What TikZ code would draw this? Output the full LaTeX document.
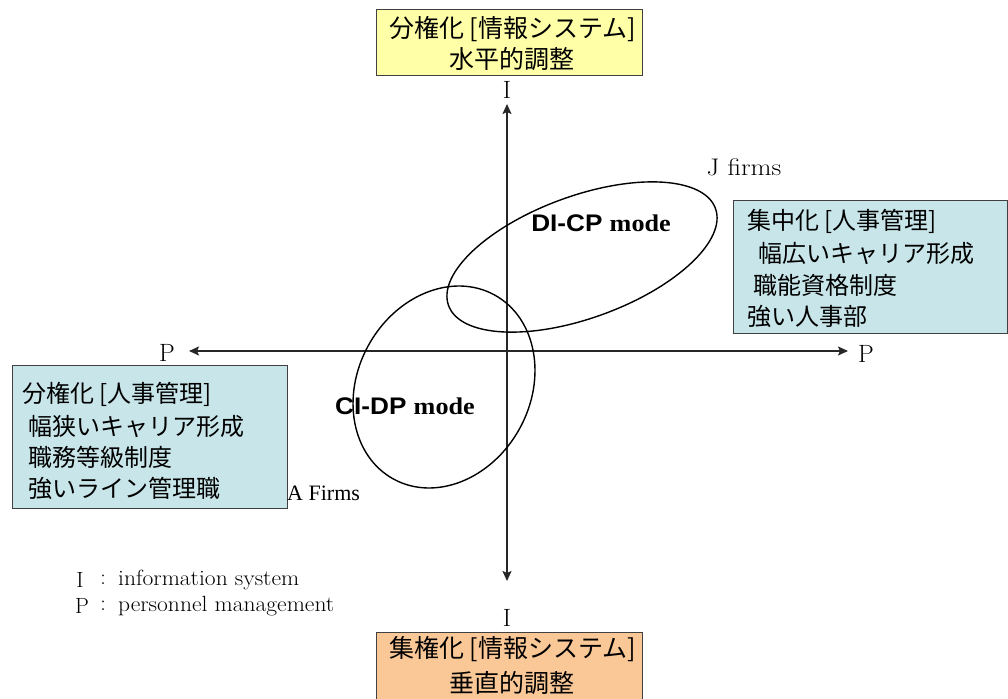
\documentclass[tikz,border=0pt]{standalone}
\usepackage{fontspec}
\newfontfamily\jp{Noto Sans CJK JP}
\newfontfamily\modesans{Liberation Sans}
\newfontfamily\modeserif{Liberation Serif}
\usetikzlibrary{arrows.meta}
\definecolor{boxyellow}{HTML}{FFFFA8}
\definecolor{boxpeach}{HTML}{FAC896}
\definecolor{boxblue}{HTML}{C8E6EA}
\newcommand{\widetext}[2]{\scalebox{#1}[1]{#2}}
\tikzset{
  panel/.style={draw=black!75, line width=1pt, inner sep=0pt, outer sep=0pt},
  jtext/.style={inner sep=0pt, font=\jp\fontsize{24}{28}\selectfont},
  jtitle/.style={inner sep=0pt, font=\jp\fontsize{25}{29}\selectfont},
  axislabel/.style={inner sep=0pt, font=\fontsize{25}{29}\selectfont},
  legendtext/.style={inner sep=0pt, font=\fontsize{22}{26}\selectfont},
  axisline/.style={line width=1.6pt, black!85,
    {Stealth[length=10pt,width=9pt,inset=2pt]}-{Stealth[length=10pt,width=9pt,inset=2pt]}},
  modeellipse/.style={draw=black, line width=1.4pt},
  modelabel/.style={inner sep=0pt, font=\fontsize{24}{28}\selectfont},
}
\begin{document}
\begin{tikzpicture}[x=1pt, y=-1pt]
  \fill[white] (0,0) rectangle (1008,698);
  \clip (0,0) rectangle (1008,698);

  % quadrant boxes
  \node[panel, fill=boxyellow, minimum width=266pt, minimum height=66pt] (topbox) at (509,43) {};
  \node[panel, fill=boxpeach, minimum width=266pt, minimum height=80pt] (botbox) at (509,672) {};
  \node[panel, fill=boxblue, minimum width=274pt, minimum height=133pt] (rightbox) at (870,266.5) {};
  \node[panel, fill=boxblue, minimum width=275pt, minimum height=143pt] (leftbox) at (149.5,436.5) {};

  % information-system labels
  \node[jtitle] (top1) at (512.5,29) {分権化 [情報システム]};
  \node[jtitle] (top2) at (512,59) {水平的調整};
  \node[jtitle] (bot1) at (512.5,649) {集権化 [情報システム]};
  \node[jtitle] (bot2) at (511.5,683) {垂直的調整};

  % personnel-management labels
  \node[jtext, anchor=west] (r1) at (747,221) {集中化 [人事管理]};
  \node[jtext, anchor=west] (r2) at (758,253) {幅広いキャリア形成};
  \node[jtext, anchor=west] (r3) at (753,285) {職能資格制度};
  \node[jtext, anchor=west] (r4) at (747,316) {強い人事部};

  \node[jtext, anchor=west] (l1) at (22,394) {分権化 [人事管理]};
  \node[jtext, anchor=west] (l2) at (28,426) {幅狭いキャリア形成};
  \node[jtext, anchor=west] (l3) at (28,457) {職務等級制度};
  \node[jtext, anchor=west] (l4) at (28,488) {強いライン管理職};

  % axes
  \node[axislabel] (itop) at (507,90) {I};
  \node[axislabel] (ibot) at (507,618) {I};
  \node[axislabel] (pleft) at (167,353) {P};
  \node[axislabel] (pright) at (866,354) {P};
  \coordinate (vtop) at (507,104);
  \coordinate (vbot) at (507,581);
  \coordinate (hleft) at (189,351);
  \coordinate (hright) at (848,351);
  \draw[axisline] (vtop) -- (vbot);
  \draw[axisline] (hleft) -- (hright);

  % mode ellipses
  \draw[modeellipse, rotate around={20:(582,257)}] (582,257) ellipse [x radius=142pt, y radius=61pt];
  \draw[modeellipse, rotate around={-28.8:(444,387)}] (444,387) ellipse [x radius=86.3pt, y radius=105pt];
  \node[modelabel] (dicp) at (601,223) {\widetext{1.09}{\modesans\bfseries DI-CP \modeserif\bfseries mode}};
  \node[modelabel] (cidp) at (405,406) {\widetext{1.09}{\modesans\bfseries CI-DP \modeserif\bfseries mode}};

  % firm groups
  \node[inner sep=0pt, font=\fontsize{24}{28}\selectfont] (jfirms) at (744,167) {\widetext{1.13}{J firms}};
  \node[inner sep=0pt, anchor=west, font=\modeserif\fontsize{22}{26}\selectfont] (afirms) at (287,493) {A Firms};

  % legend
  \node[legendtext] (legi) at (80,580) {I};
  \node[legendtext] (legic) at (103,580) {:};
  \node[legendtext, anchor=west] (legit) at (118,580) {\widetext{1.07}{information system}};
  \node[legendtext] (legp) at (82,606) {P};
  \node[legendtext] (legpc) at (103,606) {:};
  \node[legendtext, anchor=west] (legpt) at (118,606) {\widetext{1.07}{personnel management}};
\end{tikzpicture}
\end{document}
